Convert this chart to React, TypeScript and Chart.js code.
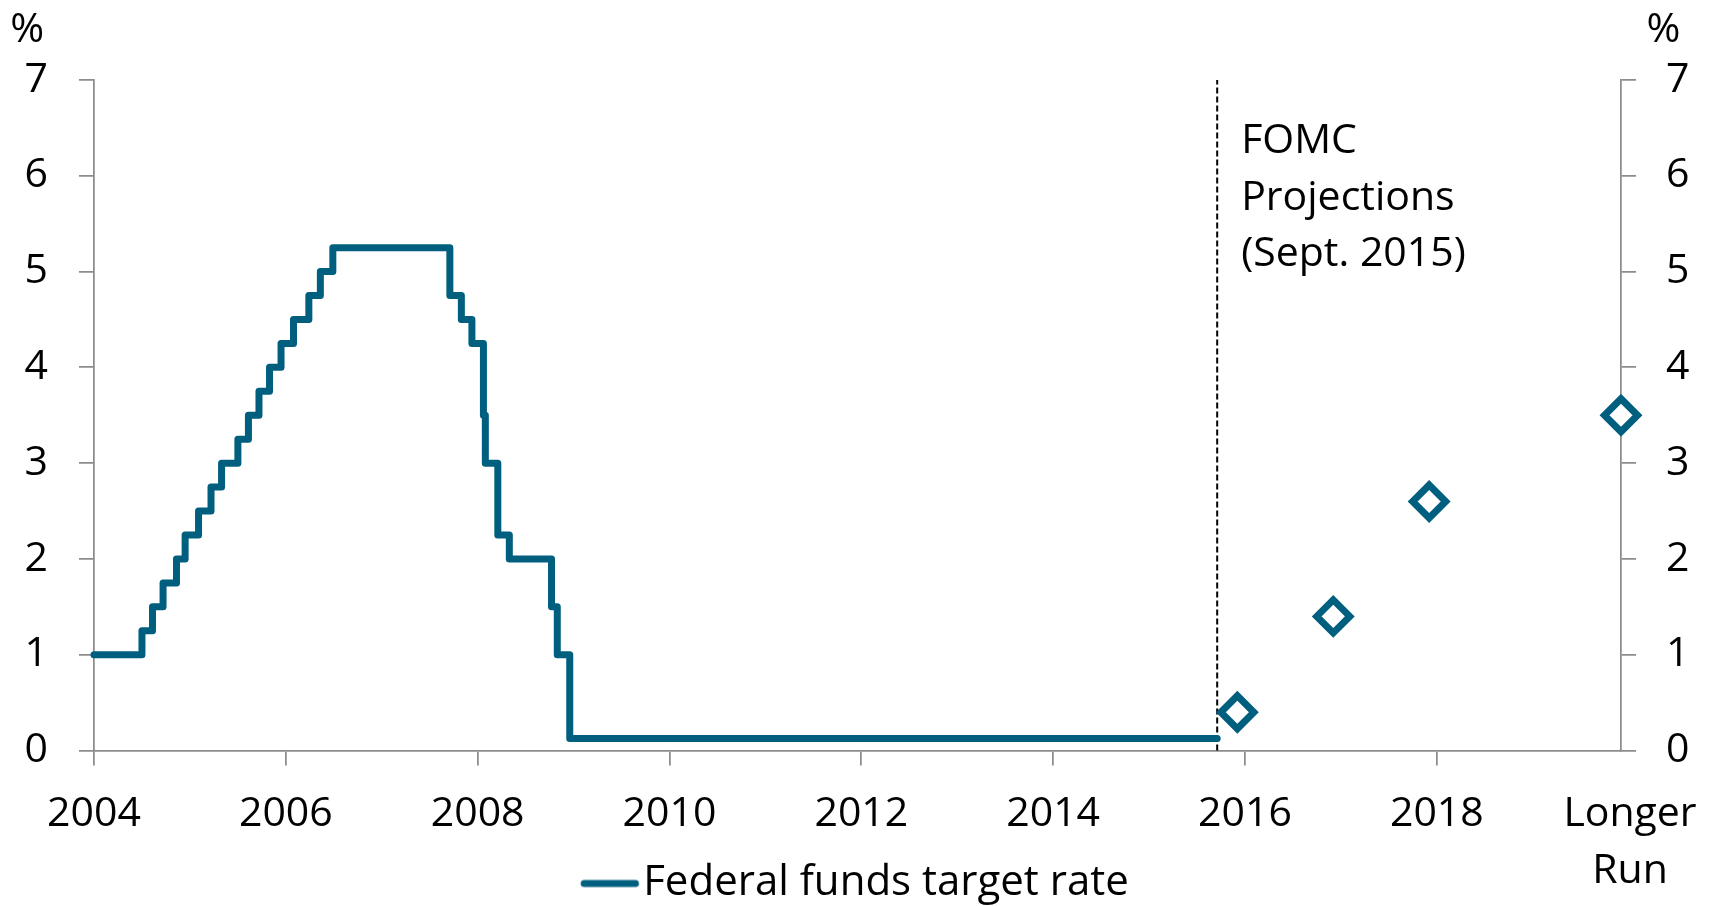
import { useEffect, useRef } from 'react';
import { Chart, registerables } from 'chart.js';

Chart.register(...registerables);

// ---- Data ----
// Federal funds target rate: decimal year of each change, and the new rate (%)
const rateChangeYears = [
  2004.0, 2004.5, 2004.61, 2004.72, 2004.86, 2004.95,
  2005.09, 2005.22, 2005.33, 2005.5, 2005.61, 2005.72, 2005.83, 2005.95,
  2006.08, 2006.24, 2006.36, 2006.49,
  2007.71, 2007.83, 2007.94,
  2008.06, 2008.08, 2008.21, 2008.33, 2008.77, 2008.83, 2008.96,
  2015.71,
];
const rateValues = [
  1.0, 1.25, 1.5, 1.75, 2.0, 2.25,
  2.5, 2.75, 3.0, 3.25, 3.5, 3.75, 4.0, 4.25,
  4.5, 4.75, 5.0, 5.25,
  4.75, 4.5, 4.25,
  3.5, 3.0, 2.25, 2.0, 1.5, 1.0, 0.125,
  0.125,
];

// FOMC projections (Sept. 2015), medians
const projectionYears = [2015.92, 2016.92, 2017.92, 2019.92];
const projectionValues = [0.4, 1.4, 2.6, 3.5];

const projectionStartX = 2015.71;
const xTickYears = [2004, 2006, 2008, 2010, 2012, 2014, 2016, 2018];
const longerRunX = 2019.92;
const longerRunLabel = ['Longer', 'Run'];
const yTickValues = [0, 1, 2, 3, 4, 5, 6, 7];
const annotationLines = ['FOMC', 'Projections', '(Sept. 2015)'];
const legendLabel = 'Federal funds target rate';
const unitLabel = '%';

// ---- Styles ----
const FONT = "'Open Sans'";
const FONT_SIZE = 41;
const LINE_COLOR = '#005f7f';
const AXIS_GRAY = '#8c8c8c';
const AXIS_W = 1.75;
const LONGER_RUN_LABEL_SHIFT = 9;

function makeLegendSample(): HTMLCanvasElement {
  const c = document.createElement('canvas');
  c.width = 76;
  c.height = 12;
  const g = c.getContext('2d')!;
  g.strokeStyle = LINE_COLOR;
  g.lineWidth = 7;
  g.lineCap = 'round';
  g.beginPath();
  g.moveTo(19, 6);
  g.lineTo(70.3, 6);
  g.stroke();
  return c;
}

const overlayPlugin = {
  id: 'overlayText',
  beforeDraw(chart: any) {
    const xs = chart.scales.x;
    if (!xs) return;
    // let the two-line category label extend below the axis box without being clipped
    xs.bottom = chart.height;
    // nudge the "Longer Run" label slightly right, as in the original
    try {
      const items = xs.getLabelItems(chart.chartArea);
      const last = items && items[items.length - 1];
      if (last && last.options && last.options.translation && !last._shifted) {
        const t = last.options.translation;
        last.options.translation = [t[0] + LONGER_RUN_LABEL_SHIFT, t[1]];
        last._shifted = true;
      }
    } catch (e) {
      /* ignore */
    }
  },
  afterDraw(chart: any) {
    const { ctx, chartArea, scales } = chart;
    ctx.save();
    ctx.font = `${FONT_SIZE}px ${FONT}`;
    ctx.fillStyle = '#000';
    ctx.textBaseline = 'alphabetic';
    ctx.textAlign = 'left';
    const x0 = scales.x.getPixelForValue(projectionStartX) + 24;
    annotationLines.forEach((t, i) => {
      ctx.fillText(t, x0, chartArea.top + 73.3 + i * 56.2);
    });
    ctx.textAlign = 'center';
    ctx.fillText(unitLabel, chartArea.left - 66.8, 41.5);
    ctx.fillText(unitLabel, chartArea.right + 42.5, 41.5);
    ctx.restore();
  },
};

export default function App() {
  const ref = useRef<HTMLCanvasElement | null>(null);

  useEffect(() => {
    if (!ref.current) return;
    Chart.defaults.font.family = FONT;
    const legendSample = makeLegendSample();

    const tickFont = { family: FONT, size: FONT_SIZE, lineHeight: 1.38 };

    const chart = new Chart(ref.current, {
      type: 'line',
      data: {
        datasets: [
          {
            label: legendLabel,
            data: rateChangeYears.map((x, i) => ({ x, y: rateValues[i] })),
            borderColor: LINE_COLOR,
            backgroundColor: LINE_COLOR,
            borderWidth: 7,
            stepped: true,
            pointRadius: 0,
            borderCapStyle: 'round',
            borderJoinStyle: 'round',
            clip: false as any,
            order: 2,
          },
          {
            label: 'Projection start',
            data: [
              { x: projectionStartX, y: 0 },
              { x: projectionStartX, y: 7 },
            ],
            borderColor: '#000',
            borderWidth: 2,
            borderDash: [6, 3],
            pointRadius: 0,
            clip: false as any,
            order: 3,
          },
          {
            label: 'FOMC projections',
            data: projectionYears.map((x, i) => ({ x, y: projectionValues[i] })),
            showLine: false,
            pointStyle: 'rectRot',
            pointRadius: 16.5,
            pointBorderWidth: 7,
            pointBackgroundColor: '#fff',
            pointBorderColor: LINE_COLOR,
            borderColor: LINE_COLOR,
            clip: false as any,
            order: 1,
          },
        ],
      },
      options: {
        responsive: false,
        animation: false,
        events: [],
        layout: { padding: { top: 80, bottom: -8.5, left: 0, right: 0 } },
        scales: {
          x: {
            type: 'linear',
            min: 2004,
            max: longerRunX,
            afterBuildTicks: (scale: any) => {
              scale.ticks = [...xTickYears, longerRunX].map((v) => ({ value: v }));
            },
            afterFit: (scale: any) => {
              scale.height = 112;
            },
            ticks: {
              autoSkip: false,
              maxRotation: 0,
              minRotation: 0,
              padding: 21,
              font: tickFont,
              color: '#000',
              callback: (v: any) => (v === longerRunX ? longerRunLabel : String(v)),
            },
            grid: {
              drawOnChartArea: false,
              drawTicks: true,
              tickLength: 15,
              lineWidth: AXIS_W,
              color: (c: any) => (c.index === xTickYears.length ? 'rgba(0,0,0,0)' : AXIS_GRAY),
            },
            border: { display: true, color: AXIS_GRAY, width: AXIS_W },
          },
          y: {
            type: 'linear',
            position: 'left',
            min: 0,
            max: 7,
            afterBuildTicks: (scale: any) => {
              scale.ticks = yTickValues.map((v) => ({ value: v }));
            },
            afterFit: (scale: any) => {
              scale.width = 94;
            },
            ticks: { padding: 31, font: tickFont, color: '#000' },
            grid: { drawOnChartArea: false, tickLength: 15, lineWidth: AXIS_W, color: AXIS_GRAY },
            border: { display: true, color: AXIS_GRAY, width: AXIS_W },
          },
          y2: {
            type: 'linear',
            position: 'right',
            min: 0,
            max: 7,
            afterBuildTicks: (scale: any) => {
              scale.ticks = yTickValues.map((v) => ({ value: v }));
            },
            afterFit: (scale: any) => {
              scale.width = 92;
            },
            ticks: { padding: 30, font: tickFont, color: '#000' },
            grid: { drawOnChartArea: false, tickLength: 15, lineWidth: AXIS_W, color: AXIS_GRAY },
            border: { display: true, color: AXIS_GRAY, width: AXIS_W },
          },
        },
        plugins: {
          tooltip: { enabled: false },
          legend: {
            position: 'bottom',
            labels: {
              usePointStyle: true,
              pointStyleWidth: 38,
              padding: 0,
              color: '#000',
              font: { family: FONT, size: 42 },
              generateLabels: () => [
                {
                  text: legendLabel,
                  pointStyle: legendSample as any,
                  fillStyle: LINE_COLOR,
                  strokeStyle: LINE_COLOR,
                  lineWidth: 0,
                  hidden: false,
                  datasetIndex: 0,
                } as any,
              ],
            },
          },
        },
      } as any,
      plugins: [overlayPlugin],
    });

    return () => chart.destroy();
  }, []);

  return (
    <div style={{ position: 'fixed', left: 0, top: 0, width: 1713, height: 906, background: '#fff' }}>
      <canvas ref={ref} width={1713} height={906} style={{ display: 'block', width: 1713, height: 906 }} />
    </div>
  );
}
